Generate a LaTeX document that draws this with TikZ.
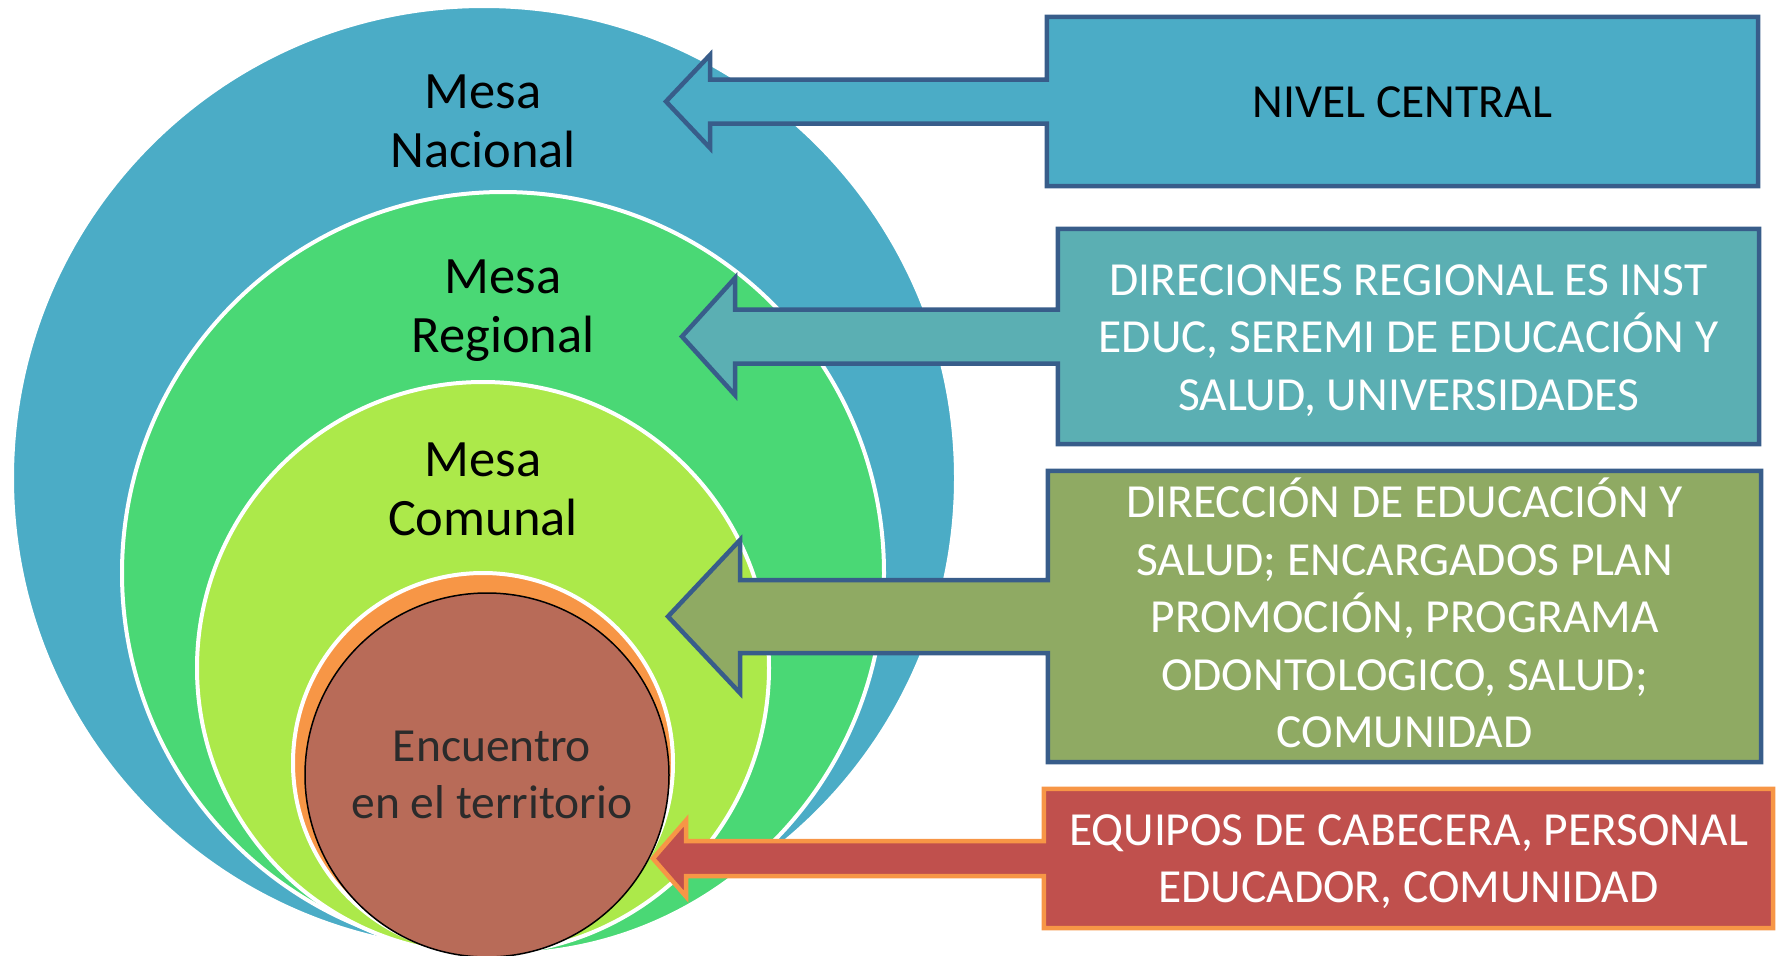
\documentclass[tikz,border=0pt]{standalone}
\usepackage{fontspec}
\setmainfont{Carlito}
\usepackage{tikz}
\usetikzlibrary{calc}
\pgfdeclarelayer{background}
\pgfsetlayers{background,main}
\definecolor{nacionalblue}{HTML}{4BACC6}
\definecolor{regionalgreen}{HTML}{4AD875}
\definecolor{comunalgreen}{HTML}{ACE94A}
\definecolor{ringorange}{HTML}{F79646}
\definecolor{territoriobrown}{HTML}{B86B58}
\definecolor{regionalteal}{HTML}{5BAFB3}
\definecolor{comunalolive}{HTML}{8FAA63}
\definecolor{equiposred}{HTML}{C0504D}
\definecolor{calloutline}{HTML}{385D8A}
\tikzstyle{ring}=[draw=white,line width=4pt]
\tikzstyle{mesa}=[align=center,font=\fontsize{52.5}{59}\selectfont]
\tikzstyle{callbox}=[rectangle,inner sep=0pt,align=center,text=white,font=\fontsize{47.5}{57.5}\selectfont]
\tikzstyle{callout}=[line width=4.5pt,line join=miter]

\begin{document}
\begin{tikzpicture}[x=1pt,y=-1pt]
  \useasboundingbox (0,0) rectangle (1781,956);

  % the nested rings, from the outside in
  \begin{pgfonlayer}{background}
  \foreach \cx/\cy/\r/\col in {
    484/478/472/nacionalblue,
    503/573/381/regionalgreen,
    483/668/286/comunalgreen,
    483/763/190/ringorange}
    \path[ring,fill=\col] (\cx,\cy) circle (\r pt);
  \path[draw=black,line width=1.5pt,fill=territoriobrown] (487,775) circle (182pt);
  \end{pgfonlayer}

  % labels inside the rings
  \node[mesa] (nacional) at (483,121) {Mesa\\Nacional};
  \node[mesa] (regional) at (503,311) {Mesa\\Regional};
  \node[mesa] (comunal) at (483,489) {Mesa\\Comunal};
  \node[mesa,text=black!83,font=\fontsize{47.5}{57}\selectfont] (encuentro) at (492,775) {Encuentro\\en el territorio};

  % the boxes on the right (text set a little off the box centre)
  \node[callbox,text=black,minimum width=711,minimum height=169] (nivelcentral) at (1402.5,102.5) {NIVEL CENTRAL};
  \node[callbox,minimum width=701,minimum height=215] (direcciones) at (1408.5,340.5)
    {DIRECIONES REGIONAL ES INST\\EDUC, SEREMI DE EDUCACIÓN Y\\SALUD, UNIVERSIDADES};
  \node[callbox,minimum width=713,minimum height=291] (direccion) at (1404.5,613)
    {DIRECCIÓN DE EDUCACIÓN Y\\SALUD; ENCARGADOS PLAN\\PROMOCIÓN, PROGRAMA\\ODONTOLOGICO, SALUD;\\COMUNIDAD};
  \node[callbox,minimum width=729,minimum height=139] (equipos) at (1408.5,861.5)
    {EQUIPOS DE CABECERA, PERSONAL\\EDUCADOR, COMUNIDAD};

  % arrow tips
  \coordinate (tipcentral) at (666,101.5);
  \coordinate (tipregional) at (682,336.5);
  \coordinate (tipcomunal) at (668,616.5);
  \coordinate (tipequipos) at (653,858.5);

  % box and arrow as one outline
  \begin{pgfonlayer}{background}
  \foreach \bx/\dy/\tip/\hl/\hh/\sh/\fc/\dc in {
    nivelcentral/1/tipcentral/44/46.5/22/nacionalblue/calloutline,
    direcciones/4/tipregional/53/58.5/27/regionalteal/calloutline,
    direccion/-3.5/tipcomunal/72/76.5/36.5/comunalolive/calloutline,
    equipos/3/tipequipos/33/38/17.5/equiposred/ringorange}
    \path[callout,fill=\fc,draw=\dc] ([yshift=\dy pt]\bx.north west) -- ([yshift=\dy pt]\bx.north east)
      -- ([yshift=\dy pt]\bx.south east) -- ([yshift=\dy pt]\bx.south west)
      -- ($(\tip-|\bx.west)+(0,\sh)$) -- ($(\tip)+(\hl,\sh)$) -- ($(\tip)+(\hl,\hh)$) -- (\tip)
      -- ($(\tip)+(\hl,-\hh)$) -- ($(\tip)+(\hl,-\sh)$) -- ($(\tip-|\bx.west)+(0,-\sh)$) -- cycle;
  \end{pgfonlayer}
\end{tikzpicture}
\end{document}
